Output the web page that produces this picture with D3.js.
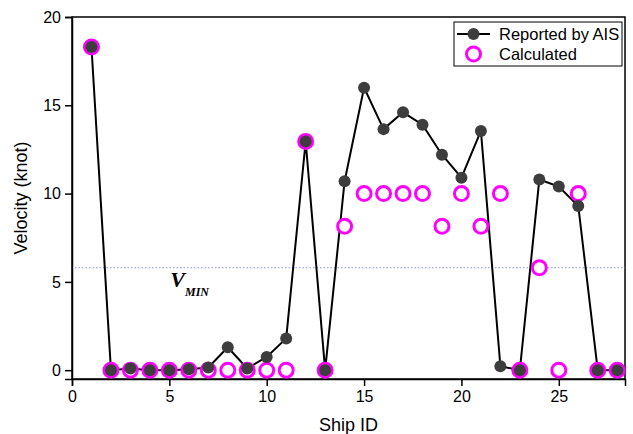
<!DOCTYPE html>
<html>
<head>
<meta charset="utf-8">
<script src="https://cdn.jsdelivr.net/npm/d3@7"></script>
<style>
  body { margin: 0; background: #fff; }
  text { font-family: Arial, "Liberation Sans", sans-serif; }
</style>
</head>
<body>
<div id="chart"></div>
<script>
// ship ids and the two velocity series (knot)
const shipIds = d3.range(1, 29);
const reportedAIS = [18.3, 0, 0.1, 0, 0, 0.05, 0.15, 1.3, 0.1, 0.75, 1.8, 12.95, 0,
  10.7, 16.0, 13.65, 14.6, 13.9, 12.2, 10.9, 13.55, 0.22, 0, 10.8, 10.4, 9.3, 0, 0];
const calculated = [18.3, 0, 0, 0, 0, 0, 0, 0, 0, 0, 0, 12.95, 0,
  8.15, 10, 10, 10, 10, 8.15, 10, 8.15, 10, 0, 5.8, 0, 10, 0, 0];
const vMin = 5.8;
const xTicks = [0, 5, 10, 15, 20, 25];
const yTicks = [0, 5, 10, 15, 20];

const width = 633, height = 434;
const margin = { top: 17, right: 8, bottom: 55, left: 72 };

const svg = d3.select("#chart")
  .append("svg")
  .attr("width", width)
  .attr("height", height);

const x = d3.scaleLinear()
  .domain([0, 28.4])
  .range([margin.left, width - margin.right]);

const y = d3.scaleLinear()
  .domain([-0.5, 20])
  .range([height - margin.bottom, margin.top]);

// frame
svg.append("rect")
  .attr("x", margin.left)
  .attr("y", margin.top)
  .attr("width", width - margin.left - margin.right)
  .attr("height", height - margin.top - margin.bottom)
  .attr("fill", "none")
  .attr("stroke", "#000")
  .attr("stroke-width", 1.5);

// axes
const xAxis = svg.append("g")
  .attr("transform", `translate(0,${height - margin.bottom})`)
  .call(d3.axisBottom(x).tickValues(xTicks).tickSize(7).tickPadding(5));
const yAxis = svg.append("g")
  .attr("transform", `translate(${margin.left},0)`)
  .call(d3.axisLeft(y).tickValues(yTicks).tickSize(7).tickPadding(4));

[xAxis, yAxis].forEach(g => {
  g.select(".domain").attr("stroke-width", 1.5);
  g.selectAll(".tick line").attr("stroke-width", 1.5);
  g.selectAll(".tick text")
    .attr("font-size", 16)
    .attr("fill", "#000");
});

// axis titles
svg.append("text")
  .attr("x", (margin.left + width - margin.right) / 2)
  .attr("y", 431)
  .attr("text-anchor", "middle")
  .attr("font-size", 18)
  .text("Ship ID");

svg.append("text")
  .attr("transform", `translate(27,${(margin.top + height - margin.bottom) / 2}) rotate(-90)`)
  .attr("text-anchor", "middle")
  .attr("font-size", 18)
  .text("Velocity (knot)");

// V_MIN reference line
svg.append("line")
  .attr("x1", margin.left + 3)
  .attr("x2", width - margin.right)
  .attr("y1", y(vMin))
  .attr("y2", y(vMin))
  .attr("stroke", "#8c8cff")
  .attr("stroke-width", 1)
  .attr("stroke-dasharray", "1.5,2");

const vLabel = svg.append("text")
  .attr("x", x(5.05))
  .attr("y", y(vMin) + 19)
  .style("font-family", "'Liberation Serif', 'Times New Roman', serif")
  .style("font-style", "italic")
  .style("font-weight", "bold");
vLabel.append("tspan").attr("font-size", 22).text("V");
vLabel.append("tspan").attr("font-size", 12).attr("dy", 9).attr("dx", 0).text("MIN");

// reported line
const line = d3.line()
  .x((d, i) => x(shipIds[i]))
  .y(d => y(d));

svg.append("path")
  .datum(reportedAIS)
  .attr("d", line)
  .attr("fill", "none")
  .attr("stroke", "#000")
  .attr("stroke-width", 2);

// calculated open circles
svg.selectAll("circle.calc")
  .data(calculated)
  .join("circle")
  .attr("class", "calc")
  .attr("cx", (d, i) => x(shipIds[i]))
  .attr("cy", d => y(d))
  .attr("r", 7)
  .attr("fill", "#fff")
  .attr("stroke", "#ff00ff")
  .attr("stroke-width", 3);

// reported points
svg.selectAll("circle.ais")
  .data(reportedAIS)
  .join("circle")
  .attr("class", "ais")
  .attr("cx", (d, i) => x(shipIds[i]))
  .attr("cy", d => y(d))
  .attr("r", 6)
  .attr("fill", "#3d3d3d");

// legend
const legend = svg.append("g").attr("transform", "translate(454,22)");
legend.append("rect")
  .attr("width", 168)
  .attr("height", 44)
  .attr("fill", "#fff")
  .attr("stroke", "#000")
  .attr("stroke-width", 1);
legend.append("line")
  .attr("x1", 3).attr("x2", 36)
  .attr("y1", 12).attr("y2", 12)
  .attr("stroke", "#000").attr("stroke-width", 2);
legend.append("circle")
  .attr("cx", 19.5).attr("cy", 12).attr("r", 6)
  .attr("fill", "#3d3d3d");
legend.append("circle")
  .attr("cx", 19.5).attr("cy", 32).attr("r", 7)
  .attr("fill", "#fff").attr("stroke", "#ff00ff").attr("stroke-width", 3);
legend.append("text")
  .attr("x", 45).attr("y", 18)
  .attr("font-size", 16.5)
  .text("Reported by AIS");
legend.append("text")
  .attr("x", 45).attr("y", 38)
  .attr("font-size", 16.5)
  .text("Calculated");
</script>
</body>
</html>
